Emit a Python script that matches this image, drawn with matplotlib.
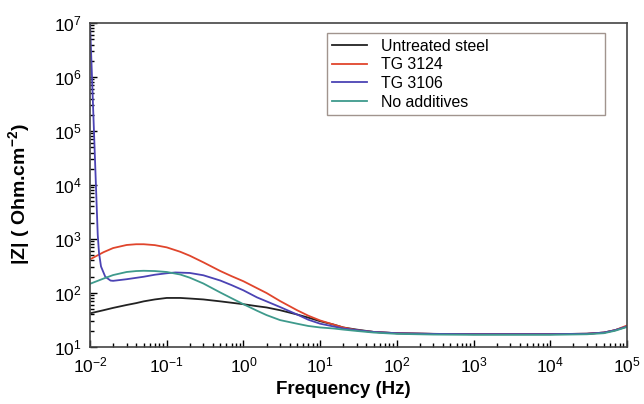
import matplotlib.pyplot as plt

plt.rcParams['font.family'] = ['Liberation Sans', 'DejaVu Sans']
plt.rcParams['mathtext.fontset'] = 'custom'
plt.rcParams['mathtext.default'] = 'regular'
plt.rcParams['axes.unicode_minus'] = False

# |Z| (Ohm.cm-2) versus frequency (Hz)
freq = [0.01, 0.015, 0.02, 0.03, 0.04, 0.05, 0.07, 0.1, 0.15, 0.2, 0.3, 0.5,
        0.7, 1, 1.5, 2, 3, 5, 7, 10, 15, 20, 30, 50, 100, 300, 1e3, 3e3, 1e4,
        3e4, 5e4, 7e4, 1e5]

untreated = [42, 48, 53, 60, 65, 70, 76, 81, 81, 79, 76, 70, 66, 62, 57, 54,
             48, 40, 35, 30, 26, 23, 21, 19, 18, 17.5, 17.3, 17.3, 17.3, 17.6,
             18.5, 20.5, 24]
tg3124 = [420, 570, 680, 775, 800, 800, 770, 700, 580, 490, 370, 255, 205,
          165, 123, 100, 71, 48, 38, 31, 26, 23, 20.5, 19, 18, 17.5, 17.3,
          17.3, 17.3, 17.6, 18.5, 20.5, 25]
no_add = [148, 185, 215, 245, 255, 258, 255, 245, 220, 192, 150, 102, 80, 62,
          47, 39, 31.5, 27, 24.5, 23, 22, 21, 19.8, 18.5, 17.5, 17, 16.8, 16.8,
          16.8, 17.2, 18, 20, 23.5]

freq_3106 = [0.01, 0.0126, 0.0131, 0.0139, 0.0158, 0.0185, 0.02, 0.03, 0.05,
             0.07, 0.1, 0.13, 0.2, 0.3, 0.5, 0.7, 1, 1.5, 2, 3, 5, 7, 10, 15,
             20, 30, 50, 100, 300, 1e3, 3e3, 1e4, 3e4, 5e4, 7e4, 1e5]
tg3106 = [1e7, 1200, 550, 310, 200, 170, 168, 180, 200, 218, 232, 240, 235,
          213, 170, 140, 112, 83, 70, 55, 40, 32, 27, 24, 22, 20.5, 19, 18,
          17.5, 17.3, 17.3, 17.3, 17.6, 18.5, 20.5, 24]

fig = plt.figure(figsize=(6.44, 4.04), dpi=100)
ax = fig.add_axes([0.1398, 0.1411, 0.8338, 0.8019])

ax.plot(freq, untreated, color='#222222', lw=1.3, label='Untreated steel')
ax.plot(freq, tg3124, color='#e0452c', lw=1.3, label='TG 3124')
ax.plot(freq_3106, tg3106, color='#4b43b4', lw=1.3, label='TG 3106')
ax.plot(freq, no_add, color='#3e9a8c', lw=1.3, label='No additives')

ax.set_xscale('log')
ax.set_yscale('log')
ax.set_xlim(1e-2, 1e5)
ax.set_ylim(1e1, 1e7)

ax.tick_params(which='both', direction='in', labelsize=12.5, width=1.0,
               top=False, right=False)
ax.tick_params(which='major', length=5, pad=6)
ax.tick_params(which='minor', length=3)
for s in ax.spines.values():
    s.set_color('#444444')
    s.set_linewidth(1.2)

ax.set_xlabel('Frequency (Hz)', fontsize=13.5, fontweight='bold')
ax.xaxis.set_label_coords(0.471, -0.105)
ax.set_ylabel('|Z| ( Ohm.cm$^{-2}$)', fontsize=14, fontweight='bold')
ax.yaxis.set_label_coords(-0.108, 0.472)

leg = ax.legend(loc='upper left', bbox_to_anchor=(0.441, 0.969, 0.518, 0),
                mode='expand', fontsize=11.4, frameon=True, fancybox=False,
                handlelength=2.2, handletextpad=0.9, labelspacing=0.23,
                borderpad=0.35, borderaxespad=0)
leg.get_frame().set_edgecolor('#8a7a72')
leg.get_frame().set_linewidth(1.0)

fig.savefig('out.png', dpi=100)
